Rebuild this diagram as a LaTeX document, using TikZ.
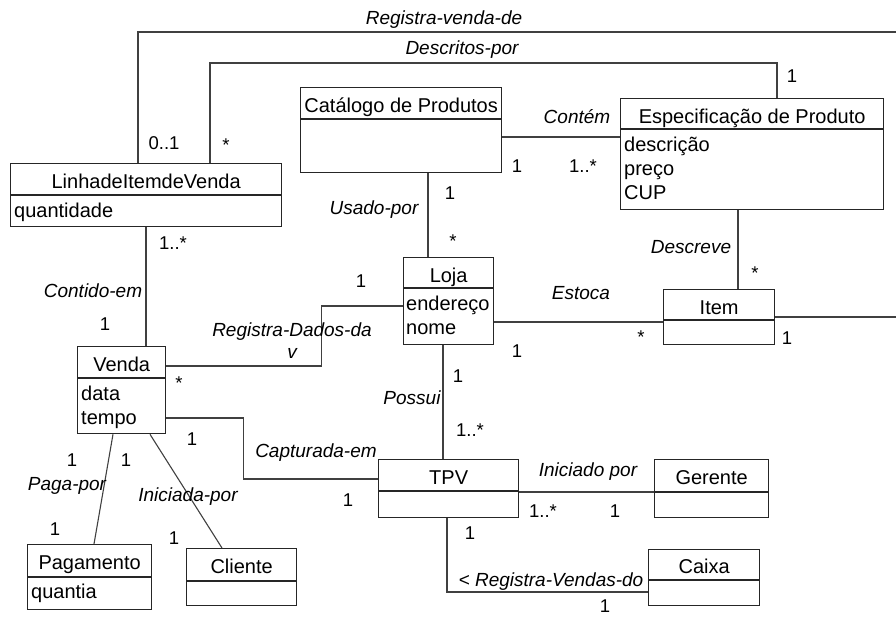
\documentclass[tikz,border=0pt]{standalone}
\usepackage{fontspec}
\setmainfont{Liberation Sans}
\usetikzlibrary{calc}

\tikzset{
	classe/.style={draw=black!85,line width=1.3pt,anchor=north west,inner sep=0pt},
	divisao/.style={draw=black!85,line width=1.3pt},
	titulo/.style={font=\fontsize{20}{24}\selectfont,text height=14pt,text depth=4pt,inner sep=0pt},
	atrib/.style={font=\fontsize{20}{24}\selectfont,anchor=base west,inner sep=0pt},
	assoc/.style={draw=black!75,line width=1.1pt},
	rotulo/.style={font=\fontsize{19}{22}\selectfont\itshape,inner sep=0pt,align=center},
	mult/.style={font=\fontsize{18.5}{22}\selectfont,inner sep=0pt}
}

\begin{document}
\begin{tikzpicture}[x=1pt,y=-1pt]
				\useasboundingbox (0,0) rectangle (896,616);

				\node[classe,minimum width=271pt,minimum height=63pt] (linha) at (10,163) {};
				\draw[divisao] ([yshift=-32pt]linha.north west) -- ([yshift=-32pt]linha.north east);
				\node[titulo] (linhaT) at ([yshift=-20pt]linha.north) {LinhadeItemdeVenda};
				\node[atrib] (linhaA) at ([xshift=4pt,yshift=-54pt]linha.north west) {quantidade};

				\node[classe,minimum width=201pt,minimum height=85pt] (catalogo) at (300,87) {};
				\draw[divisao] ([yshift=-32pt]catalogo.north west) -- ([yshift=-32pt]catalogo.north east);
				\node[titulo] (catalogoT) at ([yshift=-20pt]catalogo.north) {Catálogo de Produtos};

				\node[classe,minimum width=263pt,minimum height=111pt] (espec) at (620,98) {};
				\draw[divisao] ([yshift=-31pt]espec.north west) -- ([yshift=-31pt]espec.north east);
				\node[titulo] (especT) at ([yshift=-20pt]espec.north) {Especificação de Produto};
				\node[atrib] (especA) at ([xshift=4pt,yshift=-53pt]espec.north west) {descrição};
				\node[atrib] (especB) at ([xshift=4pt,yshift=-77pt]espec.north west) {preço};
				\node[atrib] (especC) at ([xshift=4pt,yshift=-101pt]espec.north west) {CUP};

				\node[classe,minimum width=90pt,minimum height=87pt] (loja) at (403,257) {};
				\draw[divisao] ([yshift=-31pt]loja.north west) -- ([yshift=-31pt]loja.north east);
				\node[titulo] (lojaT) at ([yshift=-20pt]loja.north) {Loja};
				\node[atrib] (lojaA) at ([xshift=3pt,yshift=-53pt]loja.north west) {endereço};
				\node[atrib] (lojaB) at ([xshift=3pt,yshift=-77pt]loja.north west) {nome};

				\node[classe,minimum width=111pt,minimum height=55pt] (item) at (663,289) {};
				\draw[divisao] ([yshift=-31pt]item.north west) -- ([yshift=-31pt]item.north east);
				\node[titulo] (itemT) at ([yshift=-20pt]item.north) {Item};

				\node[classe,minimum width=88pt,minimum height=87pt] (venda) at (77,346) {};
				\draw[divisao] ([yshift=-32pt]venda.north west) -- ([yshift=-32pt]venda.north east);
				\node[titulo] (vendaT) at ([yshift=-20pt]venda.north) {Venda};
				\node[atrib] (vendaA) at ([xshift=4pt,yshift=-54pt]venda.north west) {data};
				\node[atrib] (vendaB) at ([xshift=4pt,yshift=-78pt]venda.north west) {tempo};

				\node[classe,minimum width=140pt,minimum height=58pt] (tpv) at (378,459) {};
				\draw[divisao,line width=2pt] ([yshift=-32pt]tpv.north west) -- ([yshift=-32pt]tpv.north east);
				\node[titulo] (tpvT) at ([yshift=-20pt]tpv.north) {TPV};

				\node[classe,minimum width=114pt,minimum height=58pt] (gerente) at (654,459) {};
				\draw[divisao,line width=2pt] ([yshift=-33pt]gerente.north west) -- ([yshift=-33pt]gerente.north east);
				\node[titulo] (gerenteT) at ([yshift=-20pt]gerente.north) {Gerente};

				\node[classe,minimum width=111pt,minimum height=56pt] (caixa) at (648,549) {};
				\draw[divisao] ([yshift=-31pt]caixa.north west) -- ([yshift=-31pt]caixa.north east);
				\node[titulo] (caixaT) at ([yshift=-19pt]caixa.north) {Caixa};

				\node[classe,minimum width=124pt,minimum height=65pt] (pagamento) at (27,544) {};
				\draw[divisao] ([yshift=-33pt]pagamento.north west) -- ([yshift=-33pt]pagamento.north east);
				\node[titulo] (pagamentoT) at ([yshift=-20pt]pagamento.north) {Pagamento};
				\node[atrib] (pagamentoA) at ([xshift=4pt,yshift=-54pt]pagamento.north west) {quantia};

				\node[classe,minimum width=110pt,minimum height=57pt] (cliente) at (186,548) {};
				\draw[divisao] ([yshift=-33pt]cliente.north west) -- ([yshift=-33pt]cliente.north east);
				\node[titulo] (clienteT) at ([yshift=-20pt]cliente.north) {Cliente};

				\coordinate (borda1) at (896,32);
				\coordinate (borda2) at (896,317);

				\draw[assoc] ([xshift=128pt]linha.north west) |- (borda1);
				\draw[assoc] ([xshift=200pt]linha.north west) -- ++(0,-100) -| ([xshift=157pt]espec.north west);
				\draw[assoc] ([yshift=-50pt]catalogo.north east) coordinate (c1) -- (c1 -| espec.west);
				\draw[assoc] ([xshift=128pt]catalogo.south west) coordinate (c2) -- (c2 |- loja.north);
				\draw[assoc] ([xshift=118pt]espec.south west) coordinate (c3) -- (c3 |- item.north);
				\draw[assoc] ([yshift=-65pt]loja.north east) coordinate (c4) -- (c4 -| item.west);
				\draw[assoc] ([yshift=-28pt]item.north east) -- (borda2);
				\draw[assoc] ([xshift=136pt]linha.south west) coordinate (c5) -- (c5 |- venda.north);
				\draw[assoc] ([yshift=-20pt]venda.north east) -- ++(155,0) |- ([yshift=-49pt]loja.north west);
				\draw[assoc] ([yshift=-72pt]venda.north east) -- ++(77,0) |- ([yshift=-20pt]tpv.north west);
				\draw[assoc] ([xshift=40pt]loja.south west) coordinate (c6) -- (c6 |- tpv.north);
				\draw[assoc] ([xshift=36pt]venda.south west) -- ([xshift=67pt]pagamento.north west);
				\draw[assoc] ([xshift=73pt]venda.south west) -- ([xshift=36pt]cliente.north west);
				\draw[assoc] ([yshift=-33pt]tpv.north east) coordinate (c7) -- (c7 -| gerente.west);
				\draw[assoc] ([xshift=69pt]tpv.south west) |- ([yshift=-43pt]caixa.north west);

				\node[rotulo] (r1) at (444,20) {Registra-venda-de};
				\node[rotulo] (r2) at (462,50) {Descritos-por};
				\node[rotulo] (r3) at (577,117) {Contém};
				\node[rotulo] (r4) at (374,210) {Usado-por};
				\node[rotulo] (r5) at (691,247) {Descreve};
				\node[rotulo] (r6) at (581,293) {Estoca};
				\node[rotulo] (r7) at (93,291) {Contido-em};
				\node[rotulo] (r8) at (292,341) {Registra-Dados-da\\v};
				\node[rotulo] (r9) at (316,453) {Capturada-em};
				\node[rotulo] (r10) at (412,398) {Possui};
				\node[rotulo] (r11) at (67,486) {Paga-por};
				\node[rotulo] (r12) at (188,497) {Iniciada-por};
				\node[rotulo] (r13) at (588,472) {Iniciado por};
				\node[rotulo] (r14) at (551,582) {< Registra-Vendas-do};

				\node[mult] (m1) at (164,143) {0..1};
				\node[mult] (m2) at (226,145) {*};
				\node[mult] (m3) at (792,76) {1};
				\node[mult] (m4) at (517,166) {1};
				\node[mult] (m5) at (583,166) {1..*};
				\node[mult] (m6) at (450,193) {1};
				\node[mult] (m7) at (453,241) {*};
				\node[mult] (m8) at (755,273) {*};
				\node[mult] (m9) at (173,243) {1..*};
				\node[mult] (m10) at (105,324) {1};
				\node[mult] (m11) at (361,281) {1};
				\node[mult] (m12) at (179,383) {*};
				\node[mult] (m13) at (517,351) {1};
				\node[mult] (m14) at (641,337) {*};
				\node[mult] (m15) at (787,338) {1};
				\node[mult] (m16) at (458,376) {1};
				\node[mult] (m17) at (470,430) {1..*};
				\node[mult] (m18) at (72,460) {1};
				\node[mult] (m19) at (126,460) {1};
				\node[mult] (m20) at (55,529) {1};
				\node[mult] (m21) at (192,439) {1};
				\node[mult] (m22) at (174,538) {1};
				\node[mult] (m23) at (348,500) {1};
				\node[mult] (m24) at (543,511) {1..*};
				\node[mult] (m25) at (615,511) {1};
				\node[mult] (m26) at (470,533) {1};
				\node[mult] (m27) at (605,606) {1};
\end{tikzpicture}
\end{document}
